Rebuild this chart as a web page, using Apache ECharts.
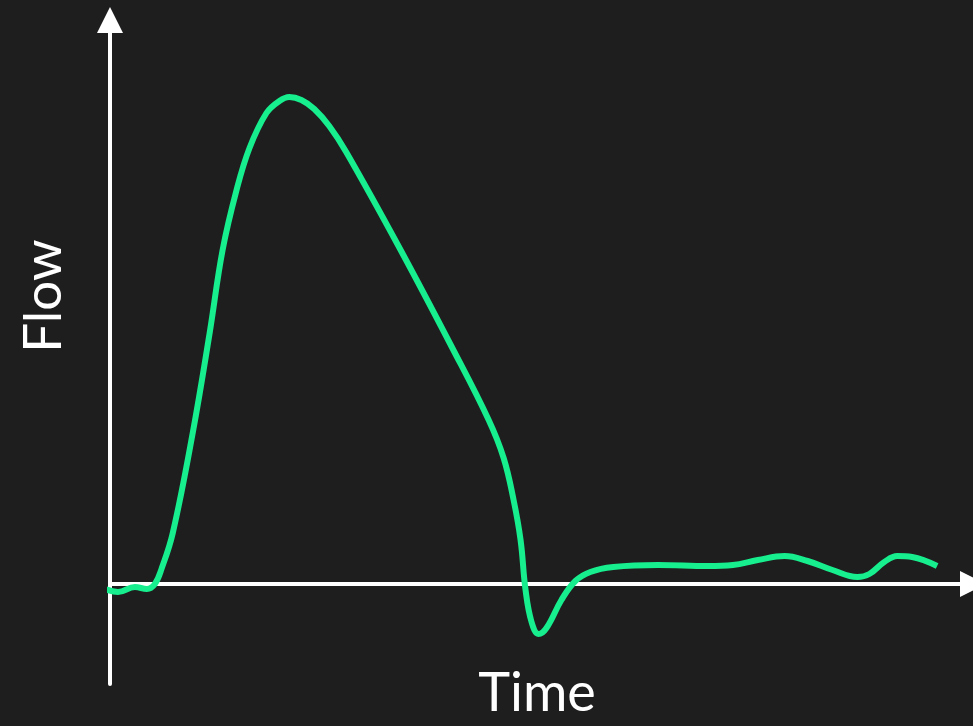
<!DOCTYPE html>
<html>
<head>
<meta charset="utf-8">
<script src="https://cdn.jsdelivr.net/npm/echarts@6/dist/echarts.min.js"></script>
<style>
html,body{margin:0;padding:0;background:#1e1e1e;}
#chart{width:973px;height:726px;}
</style>
</head>
<body>
<div id="chart"></div>
<script>
// Time (arbitrary units) and Flow (arbitrary units)
const timeValues = [-5, 8, 25, 37, 45, 52, 63, 83, 100, 113, 127, 140, 157, 170, 180, 192, 205, 220, 237, 290, 343, 380, 395, 405, 412, 417, 423, 430, 438, 453, 467, 482, 505, 550, 600, 625, 650, 677, 700, 725, 750, 762, 777, 790, 805, 830];
const flowValues = [-5, -8, -3, -5, 0, 16, 51, 151, 251, 334, 394, 436, 471, 483, 487, 484, 475, 458, 432, 337, 237, 164, 126, 84, 44, -6, -38, -50, -44, -16, 3, 12, 17, 19, 18, 19, 24, 28, 23, 14, 7, 10, 22, 28, 27, 18];
const xLabel = 'Time';
const yLabel = 'Flow';

const chart = echarts.init(document.getElementById('chart'), null, {renderer: 'canvas'});
const data = timeValues.map((t, i) => [t, flowValues[i]]);
const axisLineStyle = {color: '#ffffff', width: 4};

chart.setOption({
  backgroundColor: '#1e1e1e',
  animation: false,
  grid: {left: 110, right: -3, top: 20, bottom: 42},
  xAxis: {
    type: 'value', min: 0, max: 866,
    axisLine: {show: true, onZero: true, lineStyle: axisLineStyle, symbol: ['none', 'triangle'], symbolSize: [26, 26]},
    axisTick: {show: false}, axisLabel: {show: false}, splitLine: {show: false}
  },
  yAxis: {
    type: 'value', min: -100, max: 564,
    axisLine: {show: true, onZero: true, lineStyle: axisLineStyle, symbol: ['none', 'triangle'], symbolSize: [26, 26]},
    axisTick: {show: false}, axisLabel: {show: false}, splitLine: {show: false}
  },
  graphic: [
    {type: 'text', x: 537, y: 694,
      style: {text: xLabel, fill: '#ffffff', font: '54px Lato', textAlign: 'center', textVerticalAlign: 'middle'}},
    {type: 'text', x: 44, y: 296, rotation: Math.PI / 2,
      style: {text: yLabel, fill: '#ffffff', font: '53px Lato', textAlign: 'center', textVerticalAlign: 'middle'}}
  ],
  series: [{
    type: 'line',
    data: data,
    smooth: 0.4,
    showSymbol: false,
    clip: false,
    lineStyle: {color: '#17ee8e', width: 6},
    z: 5
  }]
});
</script>
</body>
</html>
